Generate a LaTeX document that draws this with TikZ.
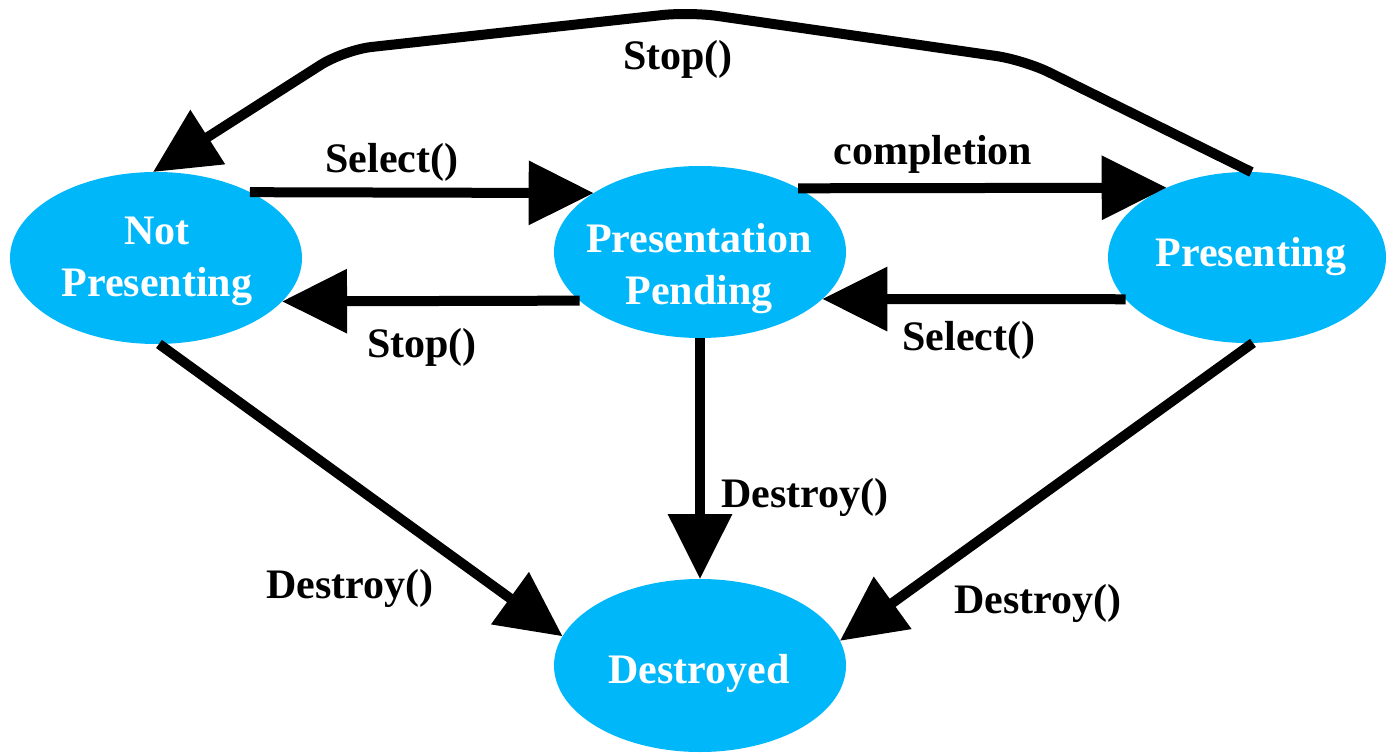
\documentclass[tikz,border=0pt]{standalone}
\usepackage{fontspec}
\setmainfont{Liberation Serif}[BoldFont={Liberation Serif Bold}]
\newfontfamily\diagfont{Liberation Serif}[BoldFont={Liberation Serif Bold}]
\usetikzlibrary{arrows.meta,shapes.geometric}
\definecolor{stcyan}{RGB}{0,183,250}
\begin{document}
\begin{tikzpicture}[x=0.5pt,y=-0.5pt,
  state/.style={ellipse,fill=stcyan,draw=none,inner sep=0pt,outer sep=0pt,minimum width=146pt,minimum height=86pt},
  stext/.style={text=white,font=\diagfont\bfseries\fontsize{21pt}{26pt}\selectfont,align=center,inner sep=0pt},
  lbl/.style={text=black,font=\diagfont\bfseries\fontsize{21pt}{26pt}\selectfont,inner sep=0pt,anchor=base},
  edge/.style={line width=5pt,-{Triangle[length=32.5pt,width=31pt]}}]
\useasboundingbox (0,0) rectangle (1386,753);

% states
\node[state] (np) at (156,258) {};
\node[state] (pp) at (700,252) {};
\node[state,minimum width=139pt,minimum height=85.5pt] (pr) at (1247,257.5) {};
\node[state,minimum height=86.5pt] (de) at (700,665.5) {};

\node[stext] (npt) at (157,261.5) {Not\\Presenting};
\node[stext] (ppt) at (699,269) {Presentation\\Pending};
\node[stext,anchor=base] (prt) at (1251,267) {Presenting};
\node[stext,anchor=base] (det) at (699,683) {Destroyed};

% labels
\node[lbl] (l1) at (392,173) {Select()};
\node[lbl] (l2) at (933,165) {completion};
\node[lbl] (l3) at (422,358) {Stop()};
\node[lbl] (l4) at (969,351) {Select()};
\node[lbl] (l5) at (805,507) {Destroy()};
\node[lbl] (l6) at (350,598) {Destroy()};
\node[lbl] (l7) at (1038,613) {Destroy()};
\node[lbl] (l8) at (678,70) {Stop()};

% waypoints of the top connector
\coordinate (t1) at (1024,60);
\coordinate (t2) at (690,12);
\coordinate (t3) at (344,50);

% connectors
\draw[edge] (np.35) -- (pp.151);
\draw[edge] (pp.33) -- (pr.139);
\draw[edge] (pp.202) -- (np.-19);
\draw[edge] (pr.199) -- (pp.-21);
\draw[edge] (pp.south) -- (de.north);
\draw[edge] (np.-88) -- (de.168);
\draw[edge] (pr.-86) -- (de.10);
\draw[edge,rounded corners=14pt] (pr.87) -- (t1) -- (t2) -- (t3) -- (np.92);
\end{tikzpicture}
\end{document}
